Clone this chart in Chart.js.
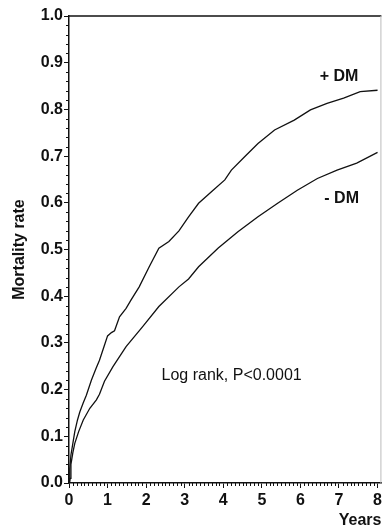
<!DOCTYPE html>
<html>
<head>
<meta charset="utf-8">
<script src="https://cdn.jsdelivr.net/npm/chart.js@4/dist/chart.umd.min.js"></script>
<style>
  html, body { margin: 0; padding: 0; background: #fff; overflow: hidden; }
  #wrap { width: 385px; height: 529px; position: relative; }
</style>
</head>
<body>
<div id="wrap"><canvas id="km"></canvas></div>
<script>
// tick labels
const xTicks = [0, 1, 2, 3, 4, 5, 6, 7, 8];
const yTicks = [0.0, 0.1, 0.2, 0.3, 0.4, 0.5, 0.6, 0.7, 0.8, 0.9, 1.0];

// + DM (diabetes) cumulative mortality
const dmYears = [0, 0.02, 0.05, 0.1, 0.15, 0.22, 0.28, 0.37, 0.45, 0.58, 0.7, 0.79, 0.9, 1.0, 1.1, 1.18,
  1.31, 1.48, 1.61, 1.82, 2.08, 2.33, 2.59, 2.85, 3.1, 3.36, 3.7, 4.04, 4.21, 4.56, 4.9, 5.33, 5.84,
  6.26, 6.69, 7.12, 7.55, 8.0];
const dmRates = [0, 0.03, 0.06, 0.085, 0.11, 0.135, 0.152, 0.172, 0.188, 0.22, 0.245, 0.263, 0.29, 0.315, 0.322, 0.326,
  0.356, 0.374, 0.392, 0.42, 0.463, 0.503, 0.517, 0.54, 0.57, 0.599, 0.624, 0.649, 0.67, 0.699, 0.727, 0.756, 0.777,
  0.799, 0.813, 0.824, 0.838, 0.841];

// - DM (no diabetes)
const noDmYears = [0, 0.03, 0.05, 0.1, 0.15, 0.25, 0.37, 0.54, 0.71, 0.79, 0.92, 1.14, 1.48, 1.91, 2.33, 2.85,
  3.1, 3.36, 3.87, 4.38, 4.9, 5.41, 5.92, 6.44, 6.95, 7.46, 8.0];
const noDmRates = [0, 0.01, 0.04, 0.065, 0.085, 0.11, 0.135, 0.16, 0.178, 0.19, 0.218, 0.249, 0.292, 0.335, 0.378, 0.42,
  0.437, 0.463, 0.503, 0.538, 0.57, 0.599, 0.627, 0.652, 0.67, 0.685, 0.708];

const FONT = 'Liberation Sans, Arial, sans-serif';
const INK = '#111';

function toPoints(xs, ys) {
  return xs.map((x, i) => ({ x, y: ys[i] }));
}

// minor ticks, top frame line and in-plot labels
const decorPlugin = {
  id: 'decor',
  afterDraw(chart) {
    const { ctx, chartArea: a, scales } = chart;
    const xs = scales.x, ys = scales.y;
    ctx.save();
    ctx.strokeStyle = INK;
    ctx.lineWidth = 1;
    ctx.beginPath();
    for (let i = 1; i < 80; i++) {
      if (i % 10 === 0) continue;
      const px = Math.round(xs.getPixelForValue(i / 10)) + 0.5;
      ctx.moveTo(px, a.bottom);
      ctx.lineTo(px, a.bottom + 3);
    }
    for (let i = 1; i < 50; i++) {
      if (i % 5 === 0) continue;
      const py = Math.round(ys.getPixelForValue(i / 50)) + 0.5;
      ctx.moveTo(a.left, py);
      ctx.lineTo(a.left - 3, py);
    }
    ctx.stroke();

    // frame top
    ctx.lineWidth = 1.5;
    ctx.beginPath();
    ctx.moveTo(a.left, a.top);
    ctx.lineTo(a.right, a.top);
    ctx.stroke();
    ctx.strokeStyle = '#bbb';
    ctx.lineWidth = 1;
    ctx.beginPath();
    ctx.moveTo(a.right - 0.5, a.top);
    ctx.lineTo(a.right - 0.5, a.bottom);
    ctx.stroke();

    ctx.fillStyle = INK;
    ctx.textBaseline = 'middle';
    ctx.textAlign = 'left';
    ctx.font = 'bold 16px ' + FONT;
    ctx.fillText('+ DM', xs.getPixelForValue(6.5), ys.getPixelForValue(0.87));
    ctx.fillText('- DM', xs.getPixelForValue(6.62), ys.getPixelForValue(0.61));
    ctx.font = '16px ' + FONT;
    ctx.fillText('Log rank, P<0.0001', xs.getPixelForValue(2.4), ys.getPixelForValue(0.23));
    ctx.restore();
  }
};

new Chart(document.getElementById('km'), {
  type: 'line',
  data: {
    datasets: [
      { label: '+ DM', data: toPoints(dmYears, dmRates), borderColor: INK, borderWidth: 1.3, pointRadius: 0, tension: 0 },
      { label: '- DM', data: toPoints(noDmYears, noDmRates), borderColor: INK, borderWidth: 1.3, pointRadius: 0, tension: 0 },
    ],
  },
  options: {
    responsive: true,
    maintainAspectRatio: false,
    animation: false,
    events: [],
    layout: { padding: { top: 16, right: 0, left: 0, bottom: 0 } },
    plugins: { legend: { display: false }, tooltip: { enabled: false } },
    scales: {
      x: {
        type: 'linear',
        min: 0,
        max: 8.1,
        afterBuildTicks: (s) => { s.ticks = xTicks.map((v) => ({ value: v })); },
        afterFit: (s) => { s.height = 46; },
        grid: { drawOnChartArea: false, tickLength: 5, tickColor: INK, tickWidth: 1 },
        border: { display: true, color: INK, width: 1.5 },
        ticks: { color: INK, padding: 3, maxRotation: 0, font: { family: FONT, size: 16, weight: 'bold' } },
        title: {
          display: true, text: 'Years', align: 'end', color: INK,
          padding: { top: 0, bottom: 0 },
          font: { family: FONT, size: 16, weight: 'bold', lineHeight: 1 },
        },
      },
      y: {
        type: 'linear',
        min: 0,
        max: 1,
        afterBuildTicks: (s) => { s.ticks = yTicks.map((v) => ({ value: v })); },
        afterFit: (s) => { s.width = 69; },
        grid: { drawOnChartArea: false, tickLength: 5, tickColor: INK, tickWidth: 1 },
        border: { display: true, color: INK, width: 1.5 },
        ticks: {
          color: INK, padding: 1,
          font: { family: FONT, size: 16, weight: 'bold' },
          callback: (v) => Number(v).toFixed(1),
        },
        title: {
          display: true, text: 'Mortality rate', color: INK,
          padding: { top: 10, bottom: 0 },
          font: { family: FONT, size: 16, weight: 'bold' },
        },
      },
    },
  },
  plugins: [decorPlugin],
});
</script>
</body>
</html>
